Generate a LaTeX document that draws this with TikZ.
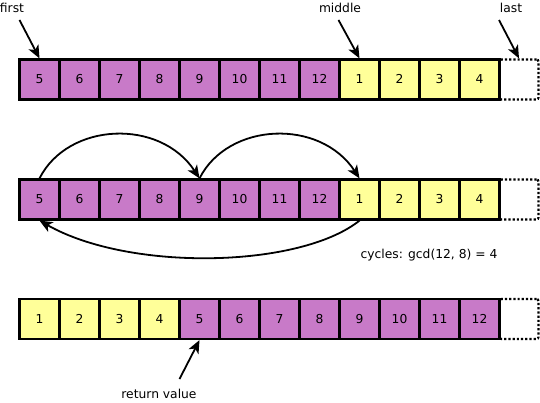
\documentclass[tikz,border=0pt]{standalone}
\usepackage{fontspec}
\setmainfont{DejaVu Sans}
\usetikzlibrary{arrows.meta}
\definecolor{lilac}{RGB}{200,122,200}
\definecolor{lyellow}{RGB}{255,255,153}
\tikzset{
  cell/.style={draw=black, line width=2.2pt, minimum width=40pt, minimum height=40pt, inner sep=0pt, text height=8.8pt, text depth=0pt, font=\fontsize{12.3}{14}\selectfont},
  pcell/.style={cell, fill=lilac},
  ycell/.style={cell, fill=lyellow},
  ecell/.style={draw=black, line width=2.2pt, dotted, rounded corners=2pt, minimum width=39pt, minimum height=40pt, inner sep=0pt},
  lbl/.style={inner sep=0pt, font=\fontsize{12.3}{14}\selectfont},
  arr/.style={line width=1.8pt, -{Stealth[length=13pt,width=11pt,inset=3.5pt]}},
}
\begin{document}
\begin{tikzpicture}[x=1pt,y=-1pt]
\useasboundingbox (0,0) rectangle (540,403);
% row 1
\foreach \v [count=\i] in {5,6,7,8,9,10,11,12}
  \node[pcell] (a\i) at ({39.5+40*(\i-1)},79.5) {\v};
\foreach \v [count=\i from 9] in {1,2,3,4}
  \node[ycell] (a\i) at ({39.5+40*(\i-1)},79.5) {\v};
\node[ecell] (a13) at (519,79.5) {};
% row 2
\foreach \v [count=\i] in {5,6,7,8,9,10,11,12}
  \node[pcell] (b\i) at ({39.5+40*(\i-1)},199.5) {\v};
\foreach \v [count=\i from 9] in {1,2,3,4}
  \node[ycell] (b\i) at ({39.5+40*(\i-1)},199.5) {\v};
\node[ecell] (b13) at (519,199.5) {};
% row 3
\foreach \v [count=\i] in {1,2,3,4}
  \node[ycell] (c\i) at ({39.5+40*(\i-1)},319) {\v};
\foreach \v [count=\i from 5] in {5,6,7,8,9,10,11,12}
  \node[pcell] (c\i) at ({39.5+40*(\i-1)},319) {\v};
\node[ecell] (c13) at (519,319) {};
% labels
\node[lbl] (first) at (12,8) {first};
\node[lbl] (middle) at (340,8) {middle};
\node[lbl] (last) at (511,8) {last};
\node[lbl] (cyc) at (429,255) {cycles: gcd(12, 8) = 4};
\node[lbl] (ret) at (159,394) {return value};
\coordinate (fT) at (19.5,20);
\coordinate (mT) at (338.5,20);
\coordinate (lT) at (499,20);
\coordinate (rT) at (179.5,379);
\draw[arr] (fT) -- (a1.north);
\draw[arr] (mT) -- (a9.north);
\draw[arr] (lT) -- (a13.north);
\draw[arr] (rT) -- (c5.south);
% cycle arcs
\draw[arr] (b1.north) .. controls (68,122) and (160,118) .. (b5.north);
\draw[arr] (b5.north) .. controls (228,122) and (320,118) .. (b9.north);
\draw[arr] (b9.south) .. controls (300,268) and (130,272) .. (b1.south);
\end{tikzpicture}
\end{document}
